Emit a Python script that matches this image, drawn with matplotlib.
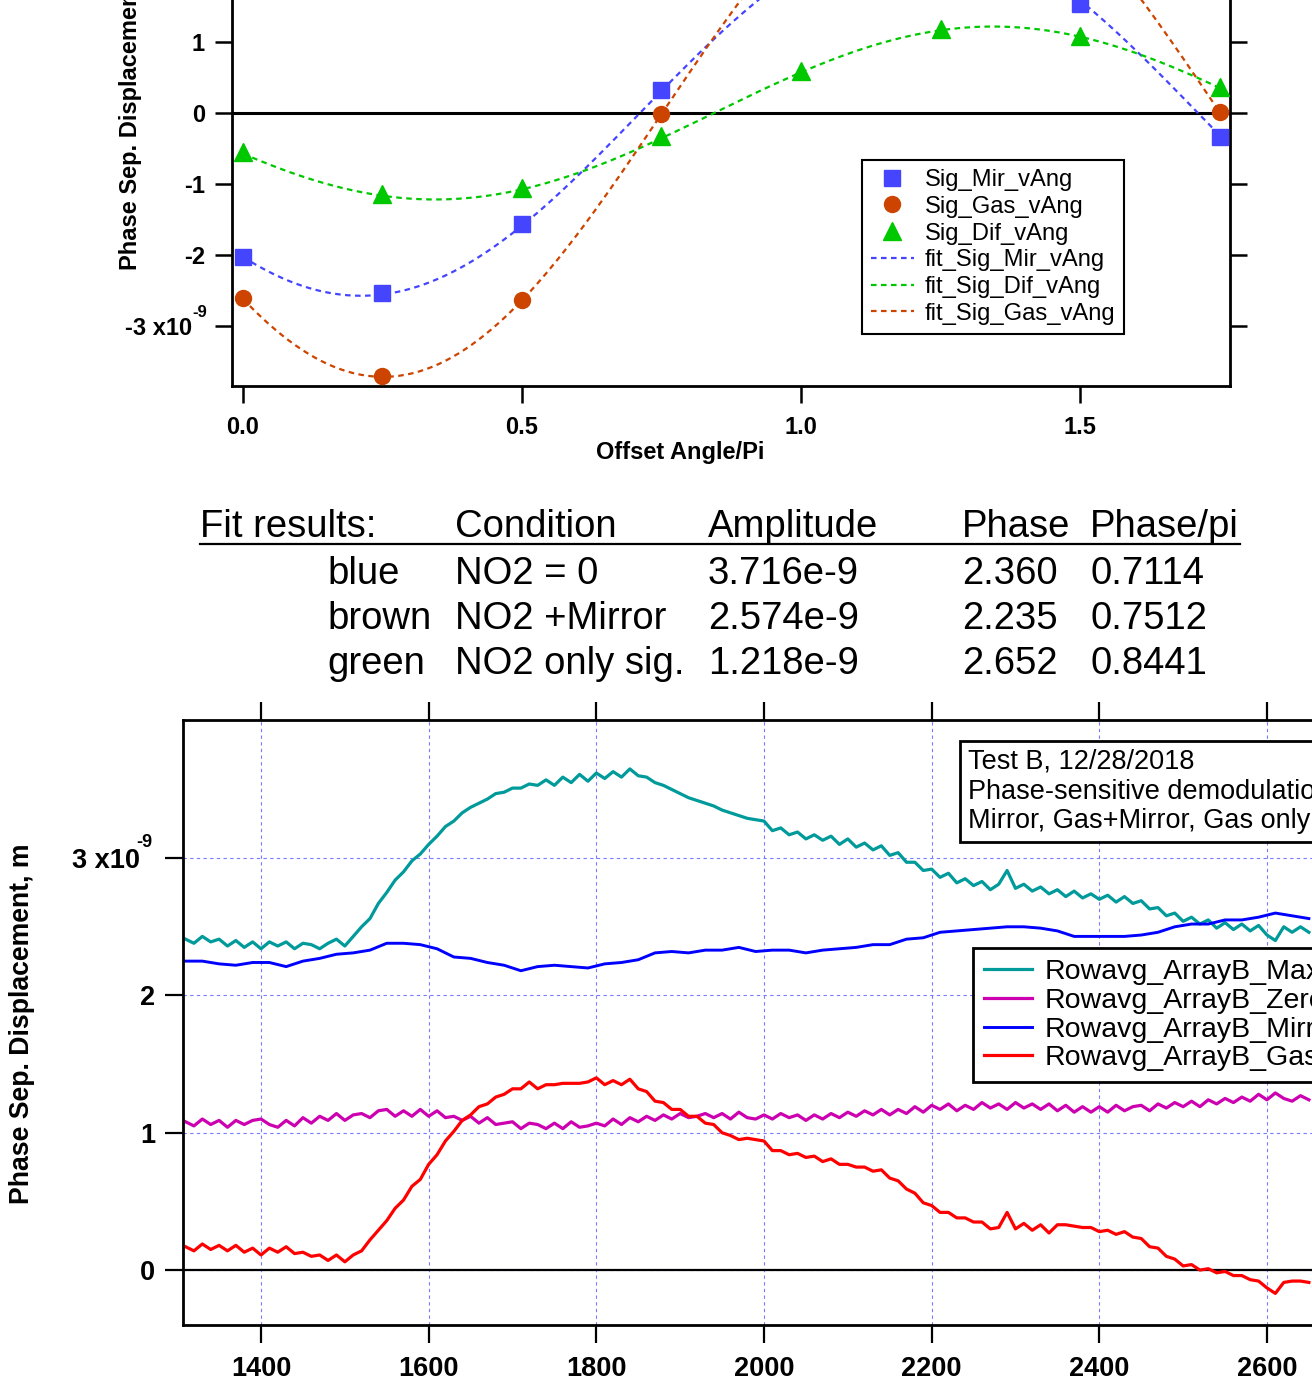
import numpy as np
import matplotlib.pyplot as plt
from matplotlib.lines import Line2D

plt.rcParams['font.family'] = ['Liberation Sans', 'DejaVu Sans']

# ---- top panel: signal vs offset angle (units of 1e-9 m) ----
offset_angle = [0.0, 0.25, 0.5, 0.75, 1.0, 1.25, 1.5, 1.75]
sig_mir = [-2.03, -2.54, -1.56, 0.33, 2.03, 2.55, 1.54, -0.34]
sig_gas = [-2.61, -3.70, -2.63, -0.01, 2.62, 3.72, 2.63, 0.01]
sig_dif = [-0.55, -1.14, -1.06, -0.32, 0.59, 1.18, 1.08, 0.37]

# sine fits  y = A*sin(pi*x - phase)
fit_mir = (2.574, 2.235)
fit_gas = (3.716, 2.360)
fit_dif = (1.218, 2.652)

# ---- fit results table ----
tab_header = ["Fit results:", "Condition", "Amplitude", "Phase", "Phase/pi"]
tab_colour = ["blue", "brown", "green"]
tab_condition = ["NO2 = 0", "NO2 +Mirror", "NO2 only sig."]
tab_amplitude = ["3.716e-9", "2.574e-9", "1.218e-9"]
tab_phase = ["2.360", "2.235", "2.652"]
tab_phase_pi = ["0.7114", "0.7512", "0.8441"]

# ---- bottom panel: row averages vs frame ----
frame = np.arange(1310, 2660, 10)
frame_mir = np.arange(1310, 2660, 20)
max_gas = [
    2.41, 2.38, 2.43, 2.39, 2.41, 2.36, 2.40, 2.35, 2.39, 2.34,
    2.39, 2.36, 2.39, 2.34, 2.38, 2.37, 2.34, 2.38, 2.41, 2.36,
    2.43, 2.50, 2.56, 2.67, 2.75, 2.84, 2.90, 2.98, 3.03, 3.10,
    3.16, 3.23, 3.27, 3.33, 3.37, 3.40, 3.43, 3.47, 3.48, 3.51,
    3.51, 3.54, 3.53, 3.57, 3.53, 3.59, 3.55, 3.61, 3.56, 3.62,
    3.58, 3.63, 3.59, 3.65, 3.60, 3.59, 3.55, 3.53, 3.50, 3.47,
    3.44, 3.42, 3.40, 3.38, 3.35, 3.33, 3.31, 3.29, 3.28, 3.27,
    3.20, 3.22, 3.17, 3.19, 3.14, 3.17, 3.13, 3.16, 3.10, 3.14,
    3.08, 3.11, 3.06, 3.09, 3.02, 3.04, 2.97, 2.97, 2.91, 2.92,
    2.86, 2.89, 2.82, 2.85, 2.80, 2.83, 2.77, 2.81, 2.91, 2.78,
    2.81, 2.76, 2.79, 2.74, 2.77, 2.72, 2.76, 2.71, 2.74, 2.70,
    2.73, 2.68, 2.72, 2.67, 2.69, 2.63, 2.64, 2.58, 2.60, 2.54,
    2.57, 2.52, 2.55, 2.49, 2.53, 2.48, 2.52, 2.47, 2.51, 2.44,
    2.40, 2.50, 2.46, 2.50, 2.46]
zero_gas = [
    1.08, 1.05, 1.10, 1.06, 1.09, 1.04, 1.09, 1.06, 1.09, 1.10,
    1.06, 1.04, 1.09, 1.05, 1.11, 1.07, 1.12, 1.09, 1.14, 1.09,
    1.13, 1.14, 1.11, 1.16, 1.17, 1.12, 1.16, 1.12, 1.17, 1.12,
    1.16, 1.11, 1.12, 1.09, 1.12, 1.07, 1.11, 1.06, 1.07, 1.08,
    1.03, 1.07, 1.06, 1.03, 1.07, 1.03, 1.08, 1.04, 1.05, 1.07,
    1.05, 1.10, 1.06, 1.11, 1.08, 1.12, 1.09, 1.13, 1.10, 1.14,
    1.11, 1.12, 1.14, 1.11, 1.14, 1.10, 1.15, 1.11, 1.10, 1.13,
    1.10, 1.14, 1.11, 1.13, 1.09, 1.13, 1.10, 1.14, 1.11, 1.15,
    1.12, 1.16, 1.13, 1.17, 1.13, 1.17, 1.14, 1.19, 1.15, 1.20,
    1.17, 1.21, 1.16, 1.20, 1.17, 1.22, 1.18, 1.21, 1.17, 1.22,
    1.18, 1.21, 1.17, 1.21, 1.16, 1.20, 1.15, 1.19, 1.15, 1.19,
    1.15, 1.20, 1.16, 1.19, 1.20, 1.16, 1.21, 1.18, 1.22, 1.19,
    1.23, 1.19, 1.24, 1.21, 1.25, 1.22, 1.26, 1.23, 1.28, 1.24,
    1.29, 1.25, 1.23, 1.27, 1.24]
mirror = [
    2.25, 2.25, 2.23, 2.22, 2.24, 2.24, 2.21, 2.25, 2.27, 2.30,
    2.31, 2.33, 2.38, 2.38, 2.37, 2.34, 2.28, 2.27, 2.24, 2.22,
    2.18, 2.21, 2.22, 2.21, 2.20, 2.23, 2.24, 2.26, 2.31, 2.32,
    2.31, 2.33, 2.33, 2.35, 2.32, 2.33, 2.33, 2.31, 2.33, 2.34,
    2.35, 2.37, 2.37, 2.41, 2.42, 2.46, 2.47, 2.48, 2.49, 2.50,
    2.50, 2.49, 2.47, 2.43, 2.43, 2.43, 2.43, 2.44, 2.46, 2.50,
    2.52, 2.52, 2.55, 2.55, 2.57, 2.60, 2.58, 2.56]
gas_only = [
    0.17, 0.14, 0.19, 0.15, 0.18, 0.14, 0.18, 0.13, 0.16, 0.11,
    0.16, 0.13, 0.17, 0.12, 0.13, 0.10, 0.11, 0.07, 0.11, 0.06,
    0.11, 0.14, 0.22, 0.29, 0.36, 0.45, 0.51, 0.61, 0.66, 0.77,
    0.84, 0.94, 1.01, 1.09, 1.13, 1.19, 1.21, 1.26, 1.28, 1.32,
    1.32, 1.37, 1.32, 1.35, 1.35, 1.36, 1.36, 1.36, 1.37, 1.40,
    1.35, 1.38, 1.35, 1.39, 1.32, 1.30, 1.23, 1.22, 1.17, 1.17,
    1.12, 1.12, 1.07, 1.06, 1.00, 0.98, 0.95, 0.96, 0.95, 0.94,
    0.87, 0.87, 0.84, 0.85, 0.82, 0.83, 0.79, 0.81, 0.77, 0.77,
    0.75, 0.75, 0.72, 0.73, 0.67, 0.65, 0.59, 0.56, 0.49, 0.47,
    0.42, 0.42, 0.38, 0.38, 0.35, 0.35, 0.30, 0.31, 0.42, 0.30,
    0.34, 0.29, 0.33, 0.27, 0.33, 0.33, 0.32, 0.31, 0.31, 0.28,
    0.29, 0.26, 0.28, 0.24, 0.23, 0.17, 0.16, 0.10, 0.08, 0.03,
    0.04, 0.00, 0.01, -0.02, -0.01, -0.04, -0.04, -0.07, -0.08, -0.13,
    -0.17, -0.09, -0.08, -0.08, -0.09]
series_names = ["Rowavg_ArrayB_MaxGas", "Rowavg_ArrayB_ZeroGas",
                "Rowavg_ArrayB_MirrorOnly", "Rowavg_ArrayB_GasOnly"]

W, H = 1312, 1383
fig = plt.figure(figsize=(W / 100, H / 100), dpi=100)

def fx(px):
    return px / W

def fy(py):
    return 1 - py / H

BLUE, BROWN, GREEN = '#4545ff', '#cc4400', '#00c800'

# ================= top plot =================
ax1 = fig.add_axes([fx(232), fy(386), (1230 - 232) / W, (386 + 171) / H])
ax1.set_xlim(-0.0197, 1.7688)
ax1.set_ylim(-3.845, 4.0)
ax1.axhline(0, color='black', lw=2.2, zorder=1)

xs = np.linspace(0, 1.75, 300)
ax1.plot(xs, fit_mir[0] * np.sin(np.pi * xs - fit_mir[1]), ls=(0, (2.5, 2)), color=BLUE, lw=1.6)
ax1.plot(xs, fit_dif[0] * np.sin(np.pi * xs - fit_dif[1]), ls=(0, (2.5, 2)), color=GREEN, lw=1.6)
ax1.plot(xs, fit_gas[0] * np.sin(np.pi * xs - fit_gas[1]), ls=(0, (2.5, 2)), color=BROWN, lw=1.6)
ax1.plot(offset_angle, sig_mir, 's', color=BLUE, ms=11, clip_on=False, zorder=4)
ax1.plot(offset_angle, sig_gas, 'o', color=BROWN, ms=11.5, clip_on=False, zorder=4)
ax1.plot(offset_angle, sig_dif, '^', color=GREEN, ms=12.5, clip_on=False, zorder=4)

for s in ax1.spines.values():
    s.set_linewidth(2)
ax1.set_xticks([0, 0.5, 1.0, 1.5])
ax1.set_xticklabels(["0.0", "0.5", "1.0", "1.5"])
ax1.set_yticks([-3, -2, -1, 0, 1, 2, 3])
ax1.set_yticklabels(["-3 x10  ", "-2", "-1", "0", "1", "2", "3"])
ax1.tick_params(axis='both', direction='out', length=12.5, width=1.8,
                labelsize=17, pad=7)
ax1.tick_params(axis='y', right=True)
ax1.tick_params(axis='x', pad=9)
for lab in ax1.get_xticklabels() + ax1.get_yticklabels():
    lab.set_fontweight('bold')
ax1.annotate("-9", xy=(0, -3), xycoords=('axes fraction', 'data'),
             xytext=(-25, 6), textcoords='offset pixels',
             ha='right', va='bottom', fontsize=12, fontweight='bold')

fig.text(fx(130), fy(270), "Phase Sep. Displacement, m", rotation=90,
         ha='center', va='bottom', fontsize=17, fontweight='bold')
fig.text(fx(680), fy(452), "Offset Angle/Pi", ha='center', va='center',
         fontsize=17, fontweight='bold')

h_top = [
    Line2D([], [], ls='none', marker='s', color=BLUE, ms=11),
    Line2D([], [], ls='none', marker='o', color=BROWN, ms=11.5),
    Line2D([], [], ls='none', marker='^', color=GREEN, ms=12.5),
    Line2D([], [], ls=(0, (2.5, 2)), color=BLUE, lw=1.6),
    Line2D([], [], ls=(0, (2.5, 2)), color=GREEN, lw=1.6),
    Line2D([], [], ls=(0, (2.5, 2)), color=BROWN, lw=1.6),
]
l_top = ["Sig_Mir_vAng", "Sig_Gas_vAng", "Sig_Dif_vAng",
         "fit_Sig_Mir_vAng", "fit_Sig_Dif_vAng", "fit_Sig_Gas_vAng"]
leg1 = ax1.legend(h_top, l_top, loc='upper left', bbox_to_anchor=(fx(862), fy(160)),
                  bbox_transform=fig.transFigure, borderaxespad=0, fontsize=17.1,
                  fancybox=False, framealpha=1, edgecolor='black',
                  handlelength=1.8, handletextpad=0.45, labelspacing=0.2,
                  borderpad=0.38)
leg1.get_frame().set_linewidth(1.5)

# ================= fit results table =================
col_x = [200, 455, 708, 962, 1090]
for x, t in zip(col_x, tab_header):
    fig.text(fx(x), fy(537), t, fontsize=27.5, va='baseline', ha='left')
fig.add_artist(Line2D([fx(200), fx(1240)], [fy(544), fy(544)], color='black', lw=1.6))
for i in range(3):
    yb = 584 + 45 * i
    row = [tab_colour[i], tab_condition[i], tab_amplitude[i], tab_phase[i], tab_phase_pi[i]]
    xs_row = [327] + col_x[1:]
    for x, t in zip(xs_row, row):
        fig.text(fx(x), fy(yb), t, fontsize=27.5, va='baseline', ha='left')

# ================= bottom plot =================
ax2 = fig.add_axes([fx(183), fy(1325), (1350.8 - 183) / W, 605 / H])
ax2.set_xlim(1306.95, 2700)
ax2.set_ylim(-0.40, 4.006)
ax2.set_xticks([1400, 1600, 1800, 2000, 2200, 2400, 2600])
ax2.set_yticks([0, 1, 2, 3])
ax2.set_yticklabels(["0", "1", "2", "3 x10  "])
ax2.grid(True, color='#7a7aff', ls=(0, (3, 3)), lw=0.8)
ax2.set_axisbelow(True)
ax2.axhline(0, color='black', lw=1.6, zorder=1.5)

ax2.plot(frame, max_gas, color='#009a9a', lw=2.3, label=series_names[0])
ax2.plot(frame, zero_gas, color='#cc00b0', lw=2.3, label=series_names[1])
ax2.plot(frame_mir, mirror, color='#0000ff', lw=2.1, label=series_names[2])
ax2.plot(frame, gas_only, color='#ff0000', lw=2.3, label=series_names[3])

for s in ax2.spines.values():
    s.set_linewidth(2)
ax2.tick_params(axis='both', direction='out', length=13, width=1.6,
                labelsize=19.5, pad=7)
ax2.tick_params(axis='x', top=True, pad=9)
for lab in ax2.get_xticklabels() + ax2.get_yticklabels():
    lab.set_fontweight('bold')
ax2.annotate("-9", xy=(0, 3), xycoords=('axes fraction', 'data'),
             xytext=(-31, 7), textcoords='offset pixels',
             ha='right', va='bottom', fontsize=13, fontweight='bold')

fig.text(fx(22), fy(1024), "Phase Sep. Displacement, m", rotation=90,
         ha='center', va='center', fontsize=19.2, fontweight='bold')

leg2 = ax2.legend(loc='upper left', bbox_to_anchor=(fx(973), fy(948)),
                  bbox_transform=fig.transFigure, borderaxespad=0, fontsize=20.5,
                  fancybox=False, framealpha=1, edgecolor='black',
                  handlelength=1.7, handletextpad=0.45, labelspacing=0.1,
                  borderpad=0.38)
leg2.get_frame().set_linewidth(2)

fig.text(fx(968), fy(749),
         "Test B, 12/28/2018\nPhase-sensitive demodulation\nMirror, Gas+Mirror, Gas only",
         ha='left', va='top', fontsize=19.5, linespacing=1.18,
         bbox=dict(boxstyle='square,pad=0.3', facecolor='white', edgecolor='black', lw=2))

fig.savefig('out.png', dpi=100)
